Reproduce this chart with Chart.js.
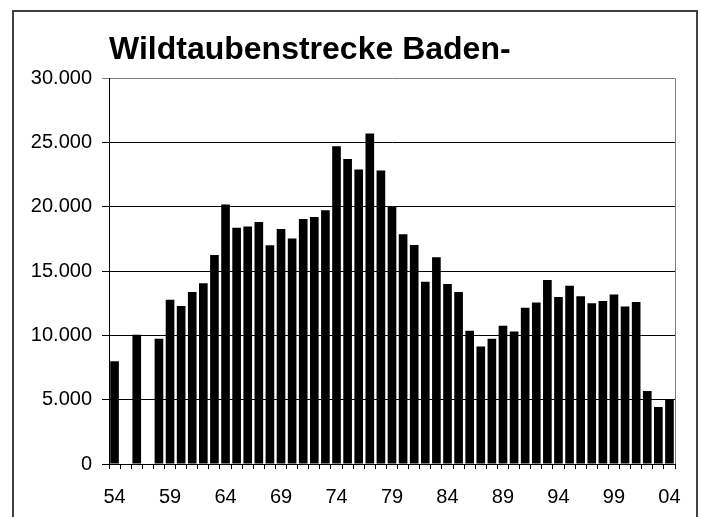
<!DOCTYPE html>
<html>
<head>
<meta charset="utf-8">
<script src="https://cdn.jsdelivr.net/npm/chart.js@4/dist/chart.umd.min.js"></script>
<style>
  html, body { margin: 0; padding: 0; background: #fff; }
  #wrap { width: 701px; height: 517px; position: relative; }
</style>
</head>
<body>
<div id="wrap"><canvas id="c" width="701" height="517"></canvas></div>
<script>
const years = ['54','55','56','57','58','59','60','61','62','63','64','65','66','67','68','69','70','71','72','73','74','75','76','77','78','79','80','81','82','83','84','85','86','87','88','89','90','91','92','93','94','95','96','97','98','99','00','01','02','03','04'];
const strecke = [8000, null, 10050, null, 9740, 12770, 12300, 13390, 14060, 16270, 20180, 18390, 18470, 18830, 17020, 18290, 17540, 19060, 19220, 19740, 24730, 23720, 22920, 25720, 22840, 20020, 17870, 17040, 14170, 16080, 14010, 13390, 10360, 9140, 9740, 10750, 10310, 12150, 12560, 14320, 13000, 13860, 13050, 12510, 12690, 13180, 12250, 12610, 5670, 4430, 5050];
const yTicks = [0, 5000, 10000, 15000, 20000, 25000, 30000];
const titleText = 'Wildtaubenstrecke Baden-';

const FONT = "Arial, 'Liberation Sans', sans-serif";

function fmt(v) {
  return String(v).replace(/\B(?=(\d{3})+(?!\d))/g, '.');
}

const frame = {
  id: 'frame',
  beforeDraw(chart) {
    const ctx = chart.ctx;
    ctx.save();
    ctx.fillStyle = '#fff';
    ctx.fillRect(0, 0, chart.width, chart.height);
    ctx.strokeStyle = '#404040';
    ctx.lineWidth = 2;
    ctx.strokeRect(13, 11, 684, 540);
    ctx.restore();
  },
  afterDatasetsDraw(chart) {
    const a = chart.chartArea;
    const ctx = chart.ctx;
    ctx.save();
    ctx.strokeStyle = '#808080';
    ctx.lineWidth = 1;
    ctx.beginPath();
    ctx.moveTo(a.right + 0.5, a.top);
    ctx.lineTo(a.right + 0.5, a.bottom);
    ctx.stroke();
    ctx.restore();
  }
};

new Chart(document.getElementById('c'), {
  type: 'bar',
  data: {
    labels: years,
    datasets: [{
      data: strecke,
      backgroundColor: '#000',
      borderWidth: 0,
      barPercentage: 0.78,
      categoryPercentage: 1.0
    }]
  },
  options: {
    responsive: false,
    animation: false,
    devicePixelRatio: 1,
    layout: { padding: { left: 12, right: 26, top: 12, bottom: 0 } },
    plugins: {
      legend: { display: false },
      tooltip: { enabled: false },
      title: {
        display: true,
        text: titleText,
        align: 'start',
        fullSize: false,
        color: '#000',
        font: { family: FONT, size: 32, weight: 'bold' },
        padding: { top: 19, bottom: 9 }
      }
    },
    scales: {
      x: {
        offset: true,
        afterFit: function(scale) { scale.height = 53; },
        grid: {
          offset: true,
          drawOnChartArea: false,
          drawTicks: true,
          tickLength: 5,
          color: '#000',
          lineWidth: 1
        },
        border: { display: true, color: '#000', width: 1 },
        ticks: {
          autoSkip: false,
          maxRotation: 0,
          minRotation: 0,
          padding: 16,
          color: '#000',
          font: { family: FONT, size: 20 },
          callback: function(val, idx) { return idx % 5 === 0 ? years[idx] : ''; }
        }
      },
      y: {
        min: 0,
        max: 30000,
        afterBuildTicks: function(scale) { scale.ticks = yTicks.map(v => ({ value: v })); },
        afterFit: function(scale) { scale.width = 97; },
        grid: {
          drawTicks: true,
          tickLength: 7,
          color: function(ctx) { return (ctx.tick && ctx.tick.value === 30000) ? '#808080' : '#000'; },
          lineWidth: 1
        },
        border: { display: true, color: '#000', width: 1 },
        ticks: {
          padding: 10,
          color: '#000',
          font: { family: FONT, size: 20 },
          callback: function(v) { return fmt(v); }
        }
      }
    }
  },
  plugins: [frame]
});
</script>
</body>
</html>
